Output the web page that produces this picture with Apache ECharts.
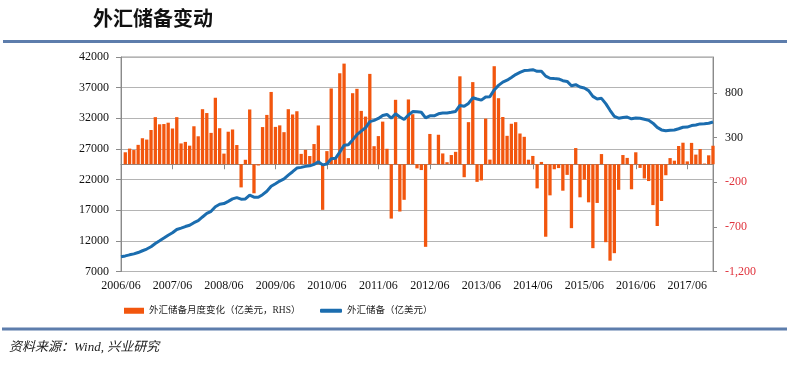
<!DOCTYPE html>
<html>
<head>
<meta charset="utf-8">
<script src="https://cdn.jsdelivr.net/npm/echarts@6/dist/echarts.min.js"></script>
<style>
html,body{margin:0;padding:0;background:#fff;}
#c{width:787px;height:365px;}
</style>
</head>
<body>
<div id="c"></div>
<script>
// Monthly categories 2006/06 .. 2017/12
const startYear = 2006, startMonth = 6, endYear = 2017, endMonth = 12;
const categories = [];
for (let y = startYear, m = startMonth; y < endYear || (y === endYear && m <= endMonth); ) {
  categories.push(y + '/' + (m < 10 ? '0' + m : m));
  m++; if (m > 12) { m = 1; y++; }
}

// 外汇储备 (亿美元), 2006/06 .. 2017/12
const reserves = [
  9411, 9545, 9720, 9879, 10096, 10387, 10663,
  11046, 11573, 12020, 12470, 12926, 13326, 13853, 14086, 14336, 14544, 14969, 15282,
  15898, 16471, 16822, 17566, 17969, 18088, 18452, 18841, 19056, 18797, 18847, 19460,
  19135, 19121, 19537, 20089, 20898, 21316, 21751, 22110, 22726, 23283, 23876, 23992,
  24153, 24245, 24471, 24905, 24395, 24542, 25390, 25465, 26483, 27609, 27678, 28473,
  29317, 29914, 30447, 31458, 31660, 31975, 32452, 32625, 32017, 32738, 32209, 31811,
  32536, 33096, 33050, 32985, 32061, 32400, 32405, 32730, 32851, 32874, 32977, 33116,
  34100, 33955, 34426, 35345, 35148, 34967, 35478, 35530, 36627, 37366, 37895, 38213,
  38666, 39137, 39481, 39788, 39839, 39932, 39662, 39688, 38877, 38529, 38473, 38430,
  38134, 38015, 37300, 37481, 37111, 36939, 36513, 35574, 35141, 35255, 34383, 33304,
  32309, 32023, 32126, 32197, 31917, 32052, 32011, 31852, 31664, 31207, 30516, 30105,
  29982, 30051, 30091, 30295, 30536, 30568, 30807, 30915, 31085, 31093, 31193, 31399
];

// 外汇储备月度变化 (亿美元, RHS), 2006/06 .. 2017/12
const monthlyChange = [
  null, 134, 175, 159, 217, 291, 276,
  383, 527, 447, 450, 465, 400, 527, 233, 250, 208, 425, 313,
  616, 573, 351, 744, 403, 119, 364, 389, 215, -259, 50, 613,
  -325, -14, 416, 552, 809, 418, 435, 359, 616, 557, 593, 116,
  161, 92, 226, 434, -510, 147, 848, 75, 1018, 1126, 69, 795,
  844, 597, 533, 1011, 202, 315, 477, 173, -608, 721, -529, -398,
  725, 560, -46, -65, -924, 339, 5, 330, 121, 23, 103, 139,
  984, -145, 471, 919, -197, -181, 511, 52, 1097, 739, 529, 318,
  453, 471, 344, 307, 51, 93, -270, 26, -811, -348, -56, -43,
  -296, -119, -715, 181, -370, -172, -426, -939, -433, 114, -872, -1079,
  -995, -286, 103, 71, -280, 134, -41, -159, -188, -457, -691, -411,
  -123, 69, 40, 204, 241, 32, 239, 108, 170, 8, 100, 207
];

const titleText = '外汇储备变动';
const sourceText = '资料来源：Wind, 兴业研究';
const barName = '外汇储备月度变化（亿美元，RHS）';
const lineName = '外汇储备（亿美元）';

const serif = '"Liberation Serif", "Noto Sans CJK SC", serif';
const cjk = '"Liberation Serif", "Noto Sans CJK SC", sans-serif';

function fmtComma(v) {
  const s = Math.abs(v).toString().replace(/\B(?=(\d{3})+(?!\d))/g, ',');
  return (v < 0 ? '-' : '') + s;
}

const chart = echarts.init(document.getElementById('c'), null, {renderer: 'canvas'});
chart.setOption({
  animation: false,
  backgroundColor: '#ffffff',
  title: {
    text: titleText, left: 93, top: 8, padding: 0,
    textStyle: {fontFamily: '"Noto Sans CJK SC", sans-serif', fontSize: 20, fontWeight: 'bold', color: '#111'}
  },
  graphic: [
    {type: 'rect', shape: {x: 3, y: 40, width: 784, height: 3}, style: {fill: '#5D7DAC'}, silent: true},
    {type: 'rect', shape: {x: 2, y: 327.5, width: 785, height: 3}, style: {fill: '#5D7DAC'}, silent: true},
    {type: 'text', left: 9, top: 341, silent: true,
      style: {text: sourceText, font: 'italic 13px "Liberation Serif", "Noto Sans CJK SC", serif', fill: '#222'}}
  ],
  legend: [
    {data: [barName], left: 124, top: 306, padding: 0, itemWidth: 20, itemHeight: 6, itemGap: 4, icon: 'rect',
      textStyle: {fontFamily: cjk, fontSize: 9.5, color: '#222'}},
    {data: [lineName], left: 320, top: 306, padding: 0, itemWidth: 22, itemHeight: 4, icon: 'roundRect',
      textStyle: {fontFamily: cjk, fontSize: 9.5, color: '#222'}}
  ],
  grid: {left: 121, right: 74, top: 57, bottom: 93.5, show: true, borderColor: '#9a9a9a', borderWidth: 1, backgroundColor: 'transparent'},
  xAxis: {
    type: 'category', data: categories, boundaryGap: false,
    axisLine: {show: true, lineStyle: {color: '#8a8a8a', width: 1}},
    axisTick: {show: true, interval: 11, length: 5, inside: false, lineStyle: {color: '#8a8a8a'}},
    axisLabel: {interval: 11, margin: 8, fontFamily: serif, fontSize: 12, color: '#111'},
    splitLine: {show: false}
  },
  yAxis: [
    {
      type: 'value', min: 7000, max: 42000, interval: 5000, position: 'left',
      axisLine: {show: true, lineStyle: {color: '#8a8a8a'}},
      axisTick: {show: true, length: 5, lineStyle: {color: '#8a8a8a'}},
      axisLabel: {margin: 12, fontFamily: serif, fontSize: 12, color: '#111', formatter: v => String(v)},
      splitLine: {show: true, lineStyle: {color: '#b4b4b4', width: 1}}
    },
    {
      type: 'value', min: -1200, max: 1200, interval: 500, position: 'right',
      axisLine: {show: true, lineStyle: {color: '#8a8a8a'}},
      axisTick: {show: true, length: 4, lineStyle: {color: '#8a8a8a'}},
      axisLabel: {
        margin: 12, showMaxLabel: false,
        formatter: v => (v < 0 ? '{r|' : '{k|') + fmtComma(v) + '}',
        rich: {
          r: {fontFamily: serif, fontSize: 12, color: '#E0323C'},
          k: {fontFamily: serif, fontSize: 12, color: '#111'}
        }
      },
      splitLine: {show: false}
    }
  ],
  series: [
    {
      name: barName, type: 'bar', yAxisIndex: 1, data: monthlyChange,
      barWidth: '77%', itemStyle: {color: '#F2560E'}, clip: true, z: 2
    },
    {
      name: lineName, type: 'line', yAxisIndex: 0, data: reserves,
      showSymbol: false, symbol: 'none', smooth: false,
      lineStyle: {color: '#1B6DAF', width: 3}, itemStyle: {color: '#1B6DAF'}, z: 3
    }
  ]
});
</script>
</body>
</html>
